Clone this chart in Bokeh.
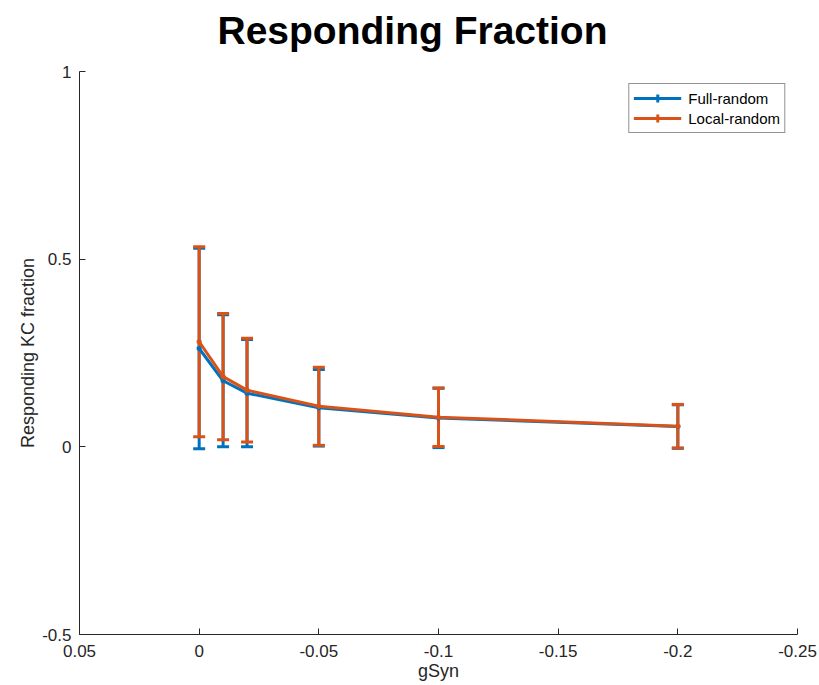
from bokeh.plotting import figure
from bokeh.models import (ColumnDataSource, Range1d, FixedTicker, Whisker, TeeHead,
                          Legend, LegendItem, Title)
from bokeh.embed import file_html
from bokeh.resources import INLINE

# ---- data ----
gsyn = [0.0, -0.01, -0.02, -0.05, -0.1, -0.2]
full_mean = [0.262, 0.176, 0.143, 0.104, 0.077, 0.054]
full_err = [0.267, 0.176, 0.143, 0.102, 0.079, 0.058]
local_mean = [0.280, 0.187, 0.151, 0.108, 0.079, 0.055]
local_err = [0.253, 0.168, 0.138, 0.104, 0.078, 0.058]

x_ticks = [0.05, 0.0, -0.05, -0.1, -0.15, -0.2, -0.25]
x_tick_labels = ["0.05", "0", "-0.05", "-0.1", "-0.15", "-0.2", "-0.25"]
y_ticks = [-0.5, 0.0, 0.5, 1.0]
y_tick_labels = ["-0.5", "0", "0.5", "1"]

BLUE = "#0072BD"
ORANGE = "#D95319"
AX = "#262626"
FONT = "Liberation Sans"

p = figure(width=819, height=685, output_backend="svg", toolbar_location=None,
           x_range=Range1d(0.05, -0.25), y_range=Range1d(-0.5, 1.0),
           min_border_left=79, min_border_right=22, min_border_top=69,
           min_border_bottom=51)

p.title.text = "Responding Fraction"
p.title.align = "left"
p.title.offset = 138
p.title.text_font = FONT
p.title.text_font_size = "39px"
p.title.text_font_style = "bold"
p.title.text_color = "black"
p.title.vertical_align = "top"
p.title.standoff = 16

# empty spacer between the title and the plot area
p.add_layout(Title(text=" ", text_font_size="1px", standoff=7), "above")

p.outline_line_color = None
p.xgrid.visible = False
p.ygrid.visible = False
p.background_fill_color = "white"
p.border_fill_color = "white"

for ax, ticks, labels in ((p.xaxis[0], x_ticks, x_tick_labels), (p.yaxis[0], y_ticks, y_tick_labels)):
    ax.ticker = FixedTicker(ticks=ticks, minor_ticks=[])
    ax.major_label_overrides = {t: l for t, l in zip(ticks, labels)}
    ax.axis_line_color = AX
    ax.major_tick_line_color = AX
    ax.major_tick_in = 6
    ax.major_tick_out = 0
    ax.minor_tick_line_color = None
    ax.major_label_text_font = FONT
    ax.major_label_text_font_size = "17px"
    ax.major_label_text_color = AX
    ax.axis_label_text_font = FONT
    ax.axis_label_text_font_size = "18px"
    ax.axis_label_text_font_style = "normal"
    ax.axis_label_text_color = AX

p.xaxis.axis_label = "gSyn"
p.yaxis.axis_label = "Responding KC fraction"
p.xaxis.major_label_standoff = 10
p.xaxis.axis_label_standoff = 1
p.yaxis.major_label_standoff = 8
p.yaxis.axis_label_standoff = 1

def series(mean, err, color):
    src = ColumnDataSource(dict(x=gsyn, y=mean,
                                lo=[m - e for m, e in zip(mean, err)],
                                hi=[m + e for m, e in zip(mean, err)]))
    ln = p.line("x", "y", source=src, line_color=color, line_width=3)
    w = Whisker(source=src, base="x", lower="lo", upper="hi", dimension="height",
                line_color=color, line_width=3,
                upper_head=TeeHead(size=12, line_color=color, line_width=3),
                lower_head=TeeHead(size=12, line_color=color, line_width=3))
    p.add_layout(w)
    # small crosses at the data points (hidden by the stem and line);
    # they give the legend its error-bar tick
    mk = p.scatter("x", "y", source=src, marker="cross", size=5,
                   line_color=color, line_width=3)
    return ln, mk

b_ln, b_mk = series(full_mean, full_err, BLUE)
o_ln, o_mk = series(local_mean, local_err, ORANGE)

legend = Legend(items=[LegendItem(label="Full-random", renderers=[b_ln, b_mk]),
                       LegendItem(label="Local-random", renderers=[o_ln, o_mk])],
                location="top_right")
legend.label_text_font = FONT
legend.label_text_font_size = "15px"
legend.label_text_color = "black"
legend.border_line_color = AX
legend.border_line_width = 1
legend.glyph_width = 48
legend.glyph_height = 20
legend.label_height = 20
legend.spacing = 0
legend.padding = 4
legend.margin = 12
legend.label_standoff = 7
p.add_layout(legend)

open("out.html", "w").write(file_html(p, INLINE))
